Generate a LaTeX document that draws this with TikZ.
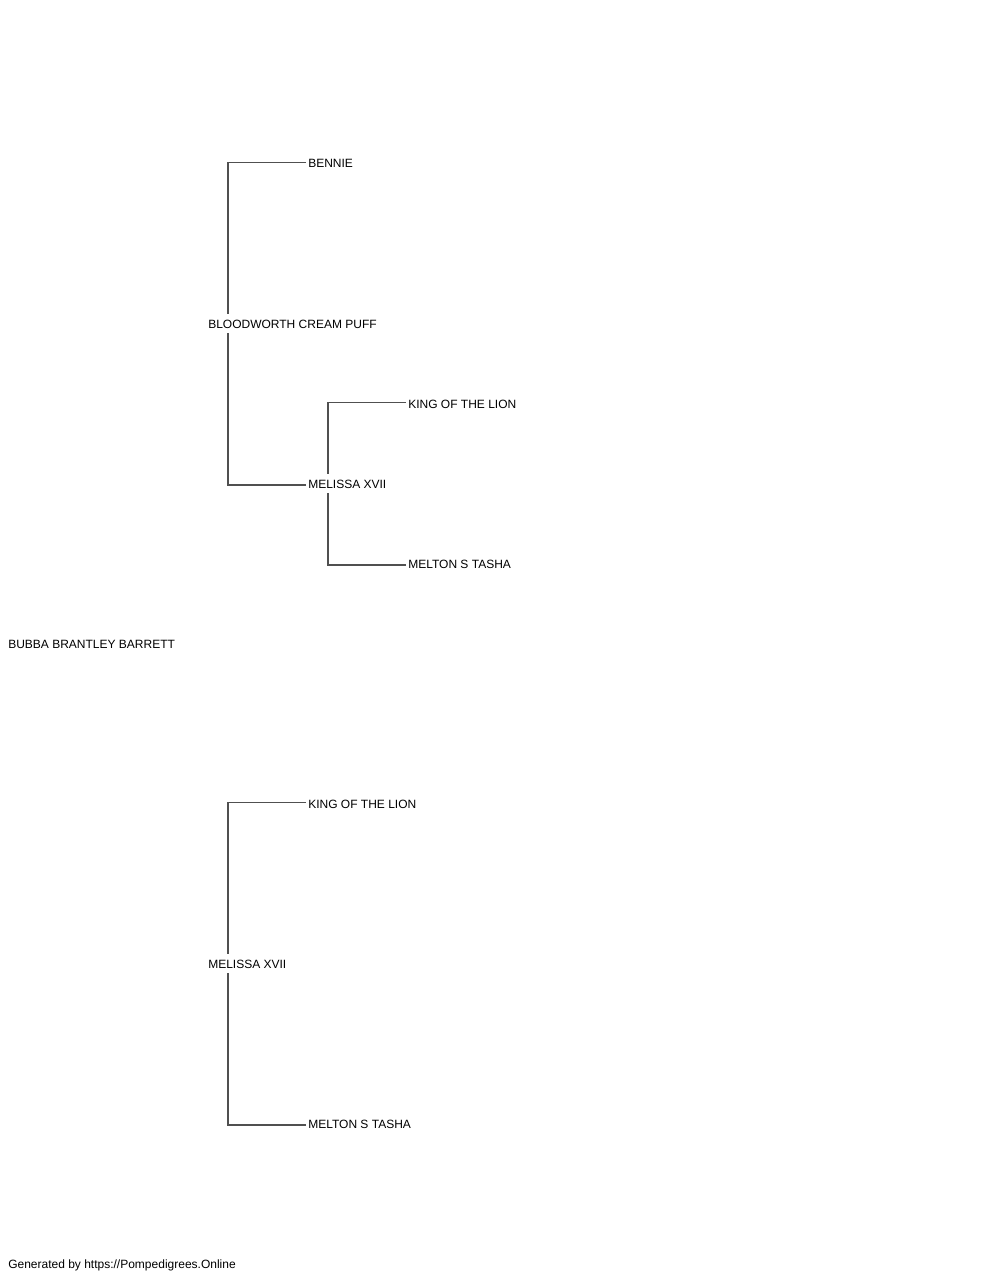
\documentclass[tikz,border=0pt]{standalone}
\usepackage{fontspec}
\setmainfont{Liberation Sans}
\definecolor{linkgray}{HTML}{505050}
\begin{document}
\begin{tikzpicture}[x=0.75pt,y=-0.75pt,
    dog/.style={anchor=base west,inner xsep=1.5pt,inner ysep=0pt,text height=10.5pt,text depth=3.75pt,font=\fontsize{9pt}{11pt}\selectfont},
    link/.style={draw=linkgray,line width=0.9pt}]
\useasboundingbox (0,0) rectangle (1000,1280);

\node[dog] (bubba) at (6,648) {BUBBA BRANTLEY BARRETT};
\node[dog] (puff) at (206,328) {BLOODWORTH CREAM PUFF};
\node[dog] (bennie) at (306,168) {BENNIE};
\node[dog] (melissa) at (306,488) {MELISSA XVII};
\node[dog] (king) at (406,408) {KING OF THE LION};
\node[dog] (tasha) at (406,568) {MELTON S TASHA};
\node[dog] (melissab) at (206,968) {MELISSA XVII};
\node[dog] (kingb) at (306,808) {KING OF THE LION};
\node[dog] (tashab) at (306,1128) {MELTON S TASHA};
\node[dog] (credit) at (6,1268) {Generated by https://Pompedigrees.Online};

\foreach \p/\s/\d in {puff/bennie/melissa, melissa/king/tasha, melissab/kingb/tashab}
{
    \draw[link] ([yshift=0.75pt]\s.west) -| ([xshift=16.5pt]\p.north west);
    \draw[link] ([yshift=-1.1pt]\d.west) -| ([xshift=16.5pt]\p.south west);
}

\end{tikzpicture}
\end{document}
